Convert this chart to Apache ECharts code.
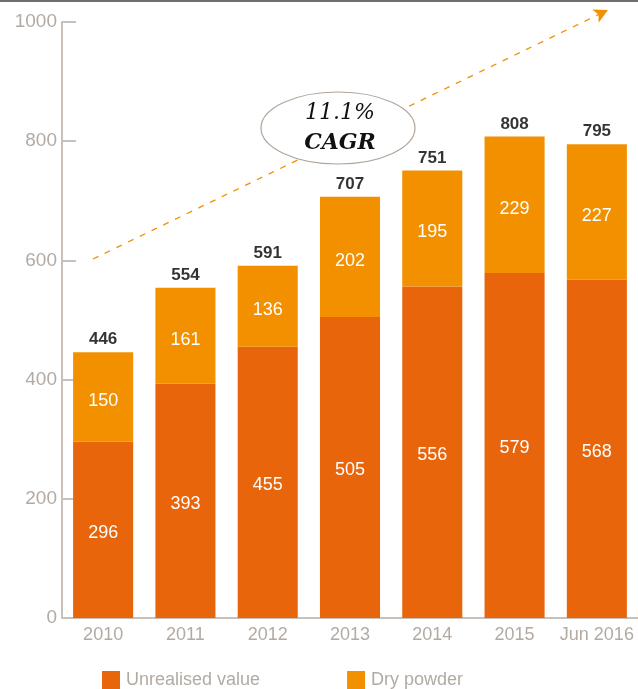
<!DOCTYPE html>
<html><head><meta charset="utf-8">
<script src="https://cdn.jsdelivr.net/npm/echarts@6/dist/echarts.min.js"></script>
<style>html,body{margin:0;padding:0;background:#fff}#c{width:638px;height:689px}</style>
</head><body><div id="c"></div>
<script>
const categories = ['2010','2011','2012','2013','2014','2015','Jun 2016'];
const unrealisedValue = [296,393,455,505,556,579,568];
const dryPowder = [150,161,136,202,195,229,227];
const totals = [446,554,591,707,751,808,795];
const yTicks = [0,200,400,600,800,1000];

const gray = '#b3aaa2';
const axisGray = '#c9c1b9';
const chart = echarts.init(document.getElementById('c'), null, {renderer:'canvas'});
chart.setOption({
  animation:false,
  textStyle:{fontFamily:'Liberation Sans, Arial, sans-serif'},
  grid:{left:62,right:0,top:22,bottom:71,containLabel:false},
  legend:{
    left:102, top:671, padding:0, itemWidth:18, itemHeight:18, itemGap:87,
    icon:'rect',
    textStyle:{color:gray,fontSize:18,padding:[0,0,0,1]},
    data:['Unrealised value','Dry powder']
  },
  xAxis:{
    type:'category', data:categories, boundaryGap:true,
    axisLine:{lineStyle:{color:axisGray,width:2}},
    axisTick:{inside:true,length:16,lineStyle:{color:axisGray,width:2}},
    axisLabel:{color:gray,fontSize:18,margin:8,interval:0}
  },
  yAxis:{
    type:'value', min:yTicks[0], max:yTicks[yTicks.length-1], interval:200,
    axisLine:{show:true,lineStyle:{color:axisGray,width:2}},
    axisTick:{show:true,inside:true,length:14,lineStyle:{color:axisGray,width:2}},
    splitLine:{show:false},
    axisLabel:{color:gray,fontSize:19,margin:5,formatter:v=>String(v)}
  },
  series:[
    {name:'Unrealised value',type:'bar',stack:'t',barWidth:'73%',data:unrealisedValue,
     itemStyle:{color:'#e8650c'},
     label:{show:true,position:'inside',color:'#fff',fontSize:18,offset:[0,3]}},
    {name:'Dry powder',type:'bar',stack:'t',data:dryPowder,
     itemStyle:{color:'#f29000'},
     label:{show:true,position:'inside',color:'#fff',fontSize:18,offset:[0,4]},
     markLine:{silent:true,symbol:['none','arrow'],symbolSize:[11,14],
       lineStyle:{color:'#f29000',type:[6,7],width:1.3},
       label:{show:false},
       data:[[{x:93,y:259},{x:608,y:10}]]}},
    {name:'total',type:'scatter',data:totals,symbolSize:0,
     label:{show:true,position:'top',distance:4,color:'#000',fontSize:17,fontWeight:'bold'},
     z:5}
  ],
  graphic:[
    {type:'rect',shape:{x:0,y:0,width:638,height:2},style:{fill:'#6e6e6e'},z:100},
    {type:'ellipse',shape:{cx:338,cy:128,rx:77,ry:36},style:{fill:'#fff',stroke:'#b0a59b',lineWidth:1.2},z:100},
    {type:'text',x:340,y:113,style:{text:'11.1%',font:'italic 22px "DejaVu Serif", serif',fill:'#111',align:'center',verticalAlign:'middle'},z:101},
    {type:'text',x:340,y:143,style:{text:'CAGR',font:'italic bold 22px "DejaVu Serif", serif',fill:'#111',align:'center',verticalAlign:'middle'},z:101}
  ]
});
</script></body></html>
